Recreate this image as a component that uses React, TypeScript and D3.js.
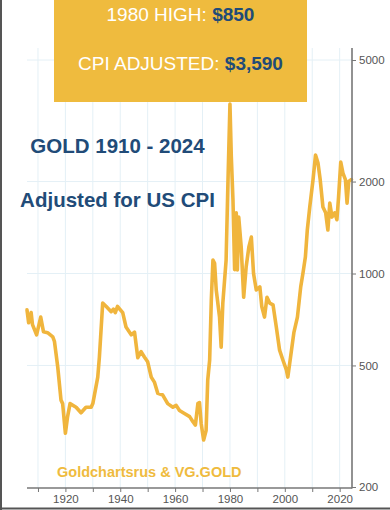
import { useEffect, useRef } from 'react';
import * as d3 from 'd3';

// gold price, CPI adjusted (USD/oz)
const years = [
  1906, 1906.6, 1907.5, 1908, 1909.5, 1911, 1912, 1913.5, 1915.4, 1916,
  1917.2, 1918.4, 1919, 1920, 1920.8, 1921.7, 1923.9, 1925.7, 1927.5, 1929.4,
  1930, 1931.8, 1932.4, 1933, 1933.6, 1934.9, 1936.7, 1937.5, 1938.2, 1939,
  1940.9, 1942.1, 1944, 1945.2, 1946.4, 1947.6, 1948.8, 1950, 1951.3, 1952.5,
  1953.7, 1955.5, 1957.3, 1959.2, 1960.4, 1961.6, 1963.4, 1965.3, 1966.5, 1967.4,
  1968.3, 1968.9, 1969.5, 1970.4, 1971.3, 1971.9, 1972.6, 1973.2, 1973.8, 1974.4,
  1975, 1976.2, 1976.8, 1977.4, 1978.6, 1979.2, 1980, 1980.5, 1981.1, 1981.7,
  1982.3, 1982.7, 1983.2, 1984.1, 1985, 1985.9, 1986.9, 1987.8, 1988.6, 1989.6,
  1990.9, 1991.6, 1992.6, 1993.5, 1994.5, 1995.7, 1996.9, 1998.1, 1999.3, 2000.6,
  2001.1, 2002.1, 2003.3, 2004.6, 2005.8, 2006.6, 2007.5, 2008.2, 2009.1, 2010.3,
  2011.2, 2012.1, 2012.9, 2013.9, 2014.9, 2015.7, 2016.4, 2017.2, 2018.2, 2019,
  2019.6, 2020.4, 2021.2, 2022.1, 2022.7, 2023.3, 2024.3,
];
const prices = [
  760, 690, 745, 680, 630, 720, 645, 640, 620, 600,
  495, 385, 375, 300, 340, 375, 365, 350, 365, 365,
  375, 458, 533, 653, 800, 780, 750, 765, 745, 780,
  745, 668, 630, 643, 530, 555, 533, 514, 458, 440,
  405, 400, 375, 365, 370, 356, 348, 340, 327, 319,
  375, 378, 323, 285, 306, 448, 521, 817, 1107, 1080,
  883, 720, 574, 800, 1107, 1875, 3590, 2406, 1741, 1030,
  1580, 1027, 1530, 1222, 836, 1050, 1222, 1316, 1000, 883,
  904, 780, 720, 836, 800, 790, 668, 561, 521, 483,
  458, 533, 640, 720, 904, 1000, 1132, 1388, 1651, 2030,
  2443, 2300, 2030, 1651, 1580, 1388, 1700, 1530, 1580, 1500,
  1779, 2316, 2130, 2030, 1700, 2000, 2030,
];

const yTicks = [200, 500, 1000, 2000, 5000];
const yGrid = [500, 1000, 2000, 5000];
const decades = [1910, 1920, 1930, 1940, 1950, 1960, 1970, 1980, 1990, 2000, 2010, 2020];
const labelledYears = [1920, 1940, 1960, 1980, 2000, 2020];

const GOLD = '#EFBB3E';
const LINE = '#F0B53D';
const NAVY = '#214b78';
const FONT = '"Liberation Sans", Arial, Helvetica, sans-serif';

export default function App() {
  const svgRef = useRef<SVGSVGElement>(null);

  useEffect(() => {
    if (!svgRef.current) return;
    const width = 390;
    const height = 510;
    const left = 27, right = 352, top = 48, bottom = 488;

    const svg = d3.select(svgRef.current);
    svg.selectAll('*').remove();
    svg.attr('viewBox', `0 0 ${width} ${height}`);

    svg.append('rect').attr('width', width).attr('height', height).attr('fill', '#fff');

    const x = d3.scaleLinear().domain([1906, 2024.5]).range([left, right]);
    const y = d3.scaleLog().domain([200, 5000]).range([487, 60]);

    // grid
    svg.append('g')
      .selectAll('line')
      .data(decades)
      .join('line')
      .attr('x1', d => x(d)).attr('x2', d => x(d))
      .attr('y1', top).attr('y2', bottom)
      .attr('stroke', '#e4f0f6').attr('stroke-width', 1);
    svg.append('g')
      .selectAll('line')
      .data(yGrid)
      .join('line')
      .attr('x1', left).attr('x2', right)
      .attr('y1', d => y(d)).attr('y2', d => y(d))
      .attr('stroke', '#e4f0f6').attr('stroke-width', 1);

    // price line
    const pts = years.map((yr, i) => [yr, prices[i]] as [number, number]);
    const line = d3.line<[number, number]>()
      .x(d => x(d[0]))
      .y(d => y(d[1]));
    svg.append('path')
      .datum(pts)
      .attr('d', line)
      .attr('fill', 'none')
      .attr('stroke', LINE)
      .attr('stroke-width', 3.6)
      .attr('stroke-linejoin', 'round')
      .attr('stroke-linecap', 'round');

    // y axis on the right
    const yAxis = svg.append('g')
      .attr('transform', `translate(${right},0)`)
      .call(d3.axisRight(y).tickValues(yTicks).tickSize(4).tickSizeOuter(0).tickPadding(3)
        .tickFormat(d => String(d)));
    yAxis.select('.domain').remove();
    yAxis.selectAll('line').attr('stroke', '#777');
    yAxis.selectAll('text').attr('fill', '#555').style('font-size', '11.5px').style('font-family', FONT);
    svg.append('line')
      .attr('x1', right).attr('x2', right).attr('y1', top).attr('y2', bottom + 0.5)
      .attr('stroke', '#777').attr('stroke-width', 1.6);

    // x axis
    const xAxis = svg.append('g')
      .attr('transform', `translate(0,${bottom})`)
      .call(d3.axisBottom(x).tickValues(decades).tickSize(4).tickSizeOuter(0).tickPadding(3)
        .tickFormat(d => (labelledYears.includes(d as number) ? String(d) : '')));
    xAxis.select('.domain').remove();
    xAxis.selectAll('line').attr('stroke', '#777');
    xAxis.selectAll('text').attr('fill', '#555').style('font-size', '11.5px').style('font-family', FONT);
    svg.append('line')
      .attr('x1', left).attr('x2', right).attr('y1', bottom).attr('y2', bottom)
      .attr('stroke', '#777').attr('stroke-width', 1.4);

    // headline box
    svg.append('rect')
      .attr('x', 54).attr('y', 0).attr('width', 253).attr('height', 102)
      .attr('fill', GOLD);
    const t1 = svg.append('text')
      .attr('x', 180.5).attr('y', 21)
      .attr('text-anchor', 'middle')
      .style('font-family', FONT).style('font-size', '19px');
    t1.append('tspan').attr('fill', '#fff').text('1980 HIGH: ');
    t1.append('tspan').attr('fill', NAVY).attr('font-weight', 'bold').text('$850');
    const t2 = svg.append('text')
      .attr('x', 180.5).attr('y', 70)
      .attr('text-anchor', 'middle')
      .style('font-family', FONT).style('font-size', '19px');
    t2.append('tspan').attr('fill', '#fff').text('CPI ADJUSTED: ');
    t2.append('tspan').attr('fill', NAVY).attr('font-weight', 'bold').text('$3,590');

    // titles
    svg.append('text')
      .attr('x', 117.5).attr('y', 153)
      .attr('text-anchor', 'middle')
      .attr('fill', NAVY).attr('font-weight', 'bold')
      .style('font-family', FONT).style('font-size', '20.5px')
      .text('GOLD 1910 - 2024');
    svg.append('text')
      .attr('x', 117.5).attr('y', 207)
      .attr('text-anchor', 'middle')
      .attr('fill', NAVY).attr('font-weight', 'bold')
      .style('font-family', FONT).style('font-size', '20.5px')
      .text('Adjusted for US CPI');

    // source
    svg.append('text')
      .attr('x', 57).attr('y', 477)
      .attr('fill', GOLD).attr('font-weight', 'bold')
      .style('font-family', FONT).style('font-size', '14.5px')
      .text('Goldchartsrus & VG.GOLD');

    // frame edges
    svg.append('line').attr('x1', 1).attr('x2', 1).attr('y1', 0).attr('y2', height)
      .attr('stroke', '#555').attr('stroke-width', 2);
    svg.append('line').attr('x1', 0).attr('x2', width).attr('y1', 508.5).attr('y2', 508.5)
      .attr('stroke', '#555').attr('stroke-width', 2);
  }, []);

  return (
    <svg
      ref={svgRef}
      width={390}
      height={510}
      style={{ position: 'absolute', left: 0, top: 0, display: 'block' }}
    />
  );
}
